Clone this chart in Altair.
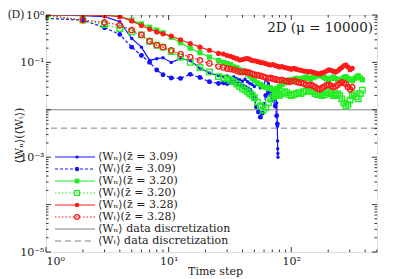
import altair as alt
import pandas as pd

# ---------------- data ----------------
T_EARLY = [1, 2, 3, 4, 5, 6, 7, 8, 9, 10.5, 12.5, 15, 18, 21.5, 25.5]
T_DENSE = [28, 30, 32, 34, 36, 38, 40, 42, 44, 46, 48, 50, 53, 56, 59, 62, 65, 68, 71, 74,
           77, 80, 84, 88, 92, 96, 100, 105, 110, 115, 120, 126, 132, 138, 144, 150, 157, 164,
           171, 178, 186, 194, 202, 211, 220, 229, 238, 248, 258, 268, 279, 290, 302, 314, 326,
           339, 352, 366, 380, 395]
T_MAIN = T_EARLY + T_DENSE
T_BLUE_N = T_EARLY + [28, 30, 32, 34, 36, 38, 40, 42, 44, 46, 48, 50, 53, 56, 59, 62, 65, 68,
                      71, 74, 76, 77, 77.3, 77.5, 77.7, 77.9]
T_BLUE_T = T_EARLY + [28, 30, 32, 34, 36, 38, 40, 42, 44, 46, 48, 50, 52, 54, 56, 58, 60, 62,
                      65, 68, 71, 74, 76, 77]

WN_309 = [1.0, 0.97, 0.92, 0.72, 0.32, 0.21, 0.11, 0.12, 0.125, 0.1, 0.12, 0.11, 0.075, 0.06, 0.052,
          0.05, 0.052, 0.047, 0.05, 0.045, 0.043, 0.04, 0.044, 0.039, 0.036, 0.034, 0.031, 0.034,
          0.029, 0.032, 0.043, 0.036, 0.03, 0.025, 0.02, 0.014, 0.0045, 0.0022, 0.0015, 0.0012, 0.001]
WT_309 = [0.85, 0.78, 0.54, 0.39, 0.21, 0.14, 0.1, 0.069, 0.055, 0.047, 0.046, 0.056, 0.048, 0.039, 0.036,
          0.037, 0.036, 0.038, 0.039, 0.036, 0.034, 0.032, 0.03, 0.028, 0.026, 0.022, 0.018, 0.0115,
          0.009, 0.007, 0.0085, 0.013, 0.02, 0.024, 0.021, 0.016, 0.012, 0.0075, 0.005]
WN_320 = [1.0, 1.0, 1.0, 0.95, 0.78, 0.65, 0.55, 0.48, 0.42, 0.34, 0.26, 0.2, 0.16, 0.13, 0.11,
          0.1, 0.094, 0.09, 0.08, 0.077, 0.07, 0.066, 0.063, 0.057, 0.052, 0.046, 0.042, 0.037, 0.034,
          0.031, 0.03, 0.028, 0.029, 0.027, 0.026, 0.028, 0.031, 0.034, 0.037, 0.04, 0.043, 0.041,
          0.044, 0.046, 0.044, 0.045, 0.047, 0.049, 0.046, 0.045, 0.048, 0.05, 0.053, 0.055, 0.051,
          0.048, 0.045, 0.043, 0.046, 0.049, 0.046, 0.043, 0.041, 0.044, 0.048, 0.05, 0.046, 0.043,
          0.041, 0.045, 0.049, 0.052, 0.047, 0.043]
WT_320 = [0.95, 0.78, 0.63, 0.52, 0.44, 0.38, 0.28, 0.23, 0.21, 0.17, 0.13, 0.1, 0.078, 0.063, 0.05,
          0.047, 0.045, 0.042, 0.039, 0.035, 0.031, 0.028, 0.026, 0.024, 0.022, 0.02, 0.018, 0.0145,
          0.012, 0.0098, 0.011, 0.014, 0.017, 0.019, 0.02, 0.021, 0.02, 0.022, 0.024, 0.023, 0.021,
          0.02, 0.021, 0.022, 0.023, 0.022, 0.024, 0.025, 0.026, 0.025, 0.024, 0.022, 0.021, 0.022,
          0.02, 0.021, 0.023, 0.024, 0.022, 0.02, 0.021, 0.022, 0.02, 0.017, 0.014, 0.012, 0.013,
          0.016, 0.02, 0.022, 0.019, 0.017, 0.022, 0.026]
WN_328 = [1.0, 1.0, 0.98, 0.92, 0.75, 0.6, 0.5, 0.44, 0.4, 0.36, 0.3, 0.25, 0.21, 0.18, 0.155,
          0.15, 0.14, 0.135, 0.126, 0.12, 0.112, 0.115, 0.119, 0.121, 0.116, 0.11, 0.108, 0.105,
          0.1, 0.098, 0.095, 0.09, 0.088, 0.09, 0.086, 0.083, 0.08, 0.082, 0.078, 0.076, 0.074,
          0.072, 0.075, 0.072, 0.07, 0.068, 0.066, 0.065, 0.063, 0.064, 0.062, 0.06, 0.058, 0.057,
          0.06, 0.062, 0.066, 0.07, 0.068, 0.065, 0.063, 0.066, 0.072, 0.078, 0.085, 0.088, 0.08,
          0.07, 0.075]
WT_328 = [1.0, 0.78, 0.7, 0.61, 0.48, 0.38, 0.28, 0.23, 0.21, 0.18, 0.15, 0.13, 0.11, 0.095, 0.082,
          0.078, 0.074, 0.072, 0.07, 0.066, 0.063, 0.062, 0.064, 0.062, 0.06, 0.057, 0.055, 0.054,
          0.052, 0.05, 0.048, 0.046, 0.047, 0.045, 0.044, 0.043, 0.042, 0.043, 0.041, 0.04, 0.039,
          0.04, 0.041, 0.039, 0.038, 0.037, 0.036, 0.034, 0.033, 0.034, 0.032, 0.03, 0.028, 0.027,
          0.029, 0.031, 0.033, 0.034, 0.032, 0.03, 0.031, 0.033, 0.036, 0.038, 0.037, 0.035, 0.03,
          0.027, 0.03]

DISC_N = [0.01]
DISC_T = [0.0041]

LABELS = ["⟨Wₙ⟩(z̄ = 3.09)", "⟨Wₜ⟩(z̄ = 3.09)", "⟨Wₙ⟩(z̄ = 3.20)", "⟨Wₜ⟩(z̄ = 3.20)",
          "⟨Wₙ⟩(z̄ = 3.28)", "⟨Wₜ⟩(z̄ = 3.28)", "⟨Wₙ⟩ data discretization",
          "⟨Wₜ⟩ data discretization"]

X_MAJOR = [1, 10, 100]
X_MINOR = [2, 3, 4, 5, 6, 7, 8, 9, 20, 30, 40, 50, 60, 70, 80, 90, 200, 300, 400, 500]
Y_MAJOR = [1, 0.1, 0.01, 0.001, 0.0001, 0.00001]
Y_MINOR = [k * 10.0 ** e for e in range(-5, 0) for k in range(2, 10)]

# ---------------- styling ----------------
FONT = "DejaVu Serif"
W, H = 331, 237
BLUE, GREEN, RED, GRAY = "#1212ff", "#22ee22", "#ff1a1a", "#808080"
TXT = "#222222"

XS = alt.Scale(type="log", domain=[1, 500], nice=False)
YS = alt.Scale(type="log", domain=[0.00001, 1], nice=False)

XAX = alt.Axis(values=X_MAJOR, ticks=False, domain=False, grid=False,
               labelExpr="'10' + ['⁰','¹','²'][round(log(datum.value)/LN10)]",
               labelFont=FONT, labelFontSize=11, labelColor=TXT, labelPadding=3,
               title="Time step", titleFont=FONT, titleFontSize=11, titleFontWeight="normal",
               titleColor=TXT, titleX=169, titleY=19, titleBaseline="middle")
YAX = alt.Axis(values=[1, 0.1, 0.001, 0.00001], ticks=False, domain=False, grid=False,
               labelExpr="'10' + ['⁰','⁻¹','⁻²','⁻³','⁻⁴','⁻⁵'][-round(log(datum.value)/LN10)]",
               labelFont=FONT, labelFontSize=11, labelColor=TXT, labelPadding=2,
               title="⟨Wₙ⟩(⟨Wₜ⟩)", titleFont=FONT, titleFontSize=11, titleFontWeight="normal",
               titleColor=TXT, titleX=-27, titleY=120, titleAngle=270,
               titleBaseline="middle", titleAlign="center")


def xenc(f):
    return alt.X(f"{f}:Q", scale=XS, axis=XAX)


def yenc(f):
    return alt.Y(f"{f}:Q", scale=YS, axis=YAX)


SERIES = [
    (T_BLUE_N, WN_309, BLUE, "circle", 12, True, None),
    (T_BLUE_T, WT_309, BLUE, "circle", 24, True, [3, 2]),
    (T_MAIN, WN_320, GREEN, "square", 28, True, None),
    (T_MAIN, WT_320, GREEN, "square", 30, False, [1.5, 2]),
    (T_MAIN, WN_328, RED, "circle", 26, True, None),
    (T_MAIN, WT_328, RED, "circle", 28, False, [1.5, 2]),
]

layers = []
for v, dash in [(DISC_N, None), (DISC_T, [6, 4])]:
    kw = {"strokeDash": dash} if dash else {}
    layers.append(alt.Chart(pd.DataFrame({"v": v})).mark_rule(color=GRAY, strokeWidth=1, **kw)
                  .encode(y=yenc("v")))

for times, vals, col, shape, size, filled, dash in SERIES:
    df = pd.DataFrame({"t": times[:len(vals)], "v": vals})
    base = alt.Chart(df).encode(x=xenc("t"), y=yenc("v"))
    kw = {"strokeDash": dash} if dash else {}
    layers.append(base.mark_line(color=col, strokeWidth=1.2, clip=True, **kw))
    layers.append(base.mark_point(shape=shape, size=size, filled=filled, color=col,
                                  opacity=1, strokeWidth=1.4, clip=True))

# frame ticks (inside)
for vals, ln in [(X_MAJOR, 5), (X_MINOR, 2.5)]:
    d = pd.DataFrame({"v": vals})
    layers.append(alt.Chart(d).mark_rule(color="black", strokeWidth=0.8)
                  .encode(x=xenc("v"), y=alt.value(H), y2=alt.value(H - ln)))
    layers.append(alt.Chart(d).mark_rule(color="black", strokeWidth=0.8)
                  .encode(x=xenc("v"), y=alt.value(0), y2=alt.value(ln)))
for vals, ln in [(Y_MAJOR, 5), (Y_MINOR, 2.5)]:
    d = pd.DataFrame({"v": vals})
    layers.append(alt.Chart(d).mark_rule(color="black", strokeWidth=0.8)
                  .encode(y=yenc("v"), x=alt.value(0), x2=alt.value(ln)))
    layers.append(alt.Chart(d).mark_rule(color="black", strokeWidth=0.8)
                  .encode(y=yenc("v"), x=alt.value(W), x2=alt.value(W - ln)))

# manual legend
LEG = SERIES + [(None, None, GRAY, None, 0, True, None), (None, None, GRAY, None, 0, True, [6, 4])]
one = pd.DataFrame({"a": [0]})
for i, (lab, spec) in enumerate(zip(LABELS, LEG)):
    _, _, col, shape, size, filled, dash = spec
    yy = 142 + i * 12
    kw = {"strokeDash": dash} if dash else {}
    layers.append(alt.Chart(one).mark_rule(color=col, strokeWidth=1.2, **kw)
                  .encode(x=alt.value(9), x2=alt.value(49), y=alt.value(yy)))
    if shape:
        layers.append(alt.Chart(one).mark_point(shape=shape, size=size * 0.8, filled=filled,
                                                color=col, opacity=1, strokeWidth=1.3)
                      .encode(x=alt.value(31), y=alt.value(yy)))
    layers.append(alt.Chart(pd.DataFrame({"label": [lab]}))
                  .mark_text(align="left", baseline="middle", font=FONT, fontSize=11, color=TXT)
                  .encode(x=alt.value(52), y=alt.value(yy), text="label:N"))

layers.append(alt.Chart(pd.DataFrame({"label": ["2D (μ = 10000)"]}))
              .mark_text(align="right", baseline="middle", font=FONT, fontSize=13.5, color=TXT)
              .encode(x=alt.value(327), y=alt.value(13), text="label:N"))
layers.append(alt.Chart(pd.DataFrame({"label": ["(D)"]}))
              .mark_text(align="left", baseline="middle", font="Liberation Serif", fontSize=11.5,
                         color=TXT)
              .encode(x=alt.value(-38), y=alt.value(0), text="label:N"))

chart = (alt.layer(*layers)
         .properties(width=W, height=H,
                     autosize=alt.AutoSizeParams(type="none"),
                     padding={"left": 38, "top": 7, "right": 10, "bottom": 26})
         .configure_view(stroke="black", strokeWidth=1.2)
         .configure(background="white"))

chart.save("out.html", embed_options={"renderer": "svg", "actions": False})
